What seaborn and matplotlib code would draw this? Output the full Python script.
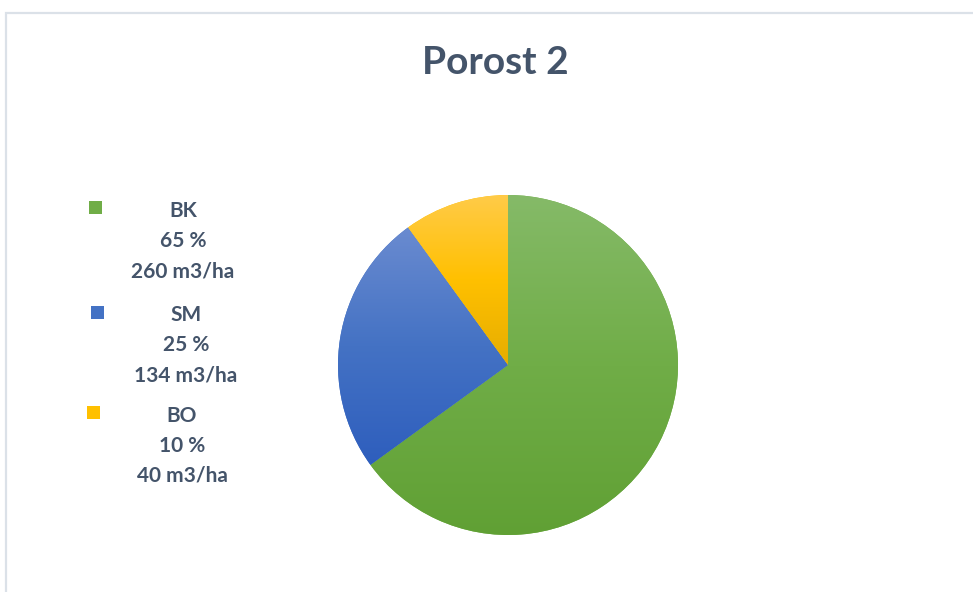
import numpy as np
import matplotlib
matplotlib.use("Agg")
import matplotlib.pyplot as plt
import seaborn as sns
from matplotlib.colors import LinearSegmentedColormap
from matplotlib.patches import Rectangle

# data
species = ["BK", "SM", "BO"]
shares = [65, 25, 10]
volumes = [260, 134, 40]
# light / base / dark for the office-like gradient
colors_light = ["#85ba68", "#6a8bd0", "#ffcb48"]
colors_base = ["#70ad47", "#4472c4", "#ffc000"]
colors_dark = ["#60a034", "#2e5ebd", "#e6ad00"]

sns.set_theme(style="white")
plt.rcParams['font.family'] = ['Lato', 'DejaVu Sans']
textColor = "#44546a"

W, H = 973, 592
fig = plt.figure(figsize=(W / 100, H / 100), dpi=100)

#frame around the chart area (runs off the right and bottom of the picture)
fig.patches.append(Rectangle((6 / W, -0.1), 1.2, 1.1 - 13 / H, transform=fig.transFigure,
                             fill=False, edgecolor="#dbe1e8", linewidth=1.6))

fig.text(495 / W, 1 - 63 / H, "Porost 2", ha="center", va="center",
         fontsize=28, fontweight="bold", color=textColor)

#pie axes, centre (508, 365), radius 170 px
cx, cy, r = 508, 365, 170
ax = fig.add_axes([(cx - r) / W, (H - cy - r) / H, 2 * r / W, 2 * r / H])
wedges, _ = ax.pie(shares, colors=colors_base, startangle=90, counterclock=False,
                   radius=1, wedgeprops=dict(edgecolor="none"))

grad = np.linspace(0, 1, 256).reshape(-1, 1)
for w, c1, c2, c3 in zip(wedges, colors_light, colors_base, colors_dark):
    verts = w.get_path().vertices
    cmap = LinearSegmentedColormap.from_list("g", [c1, c2, c3])
    im = ax.imshow(grad, cmap=cmap, aspect="auto", origin="upper",
                   extent=(verts[:, 0].min(), verts[:, 0].max(),
                           verts[:, 1].min(), verts[:, 1].max()), zorder=2)
    im.set_clip_path(w)
ax.set_xlim(-1, 1)
ax.set_ylim(-1, 1)
ax.set_aspect("equal")
ax.axis("off")

#legend on the left
markerPos = [(95, 207), (97, 312), (93, 412)]
textX = [183, 186, 182]
textY = [211, 315, 416]
lineStep = 30
for i, name in enumerate(species):
    mx, my = markerPos[i]
    fig.patches.append(Rectangle(((mx - 6.5) / W, 1 - (my + 6.5) / H), 13 / W, 13 / H,
                                 transform=fig.transFigure, facecolor=colors_base[i],
                                 edgecolor="none"))
    lines = [name, "%d %%" % shares[i], "%d m3/ha" % volumes[i]]
    for j, line in enumerate(lines):
        fig.text(textX[i] / W, 1 - (textY[i] + j * lineStep) / H, line,
                 ha="center", va="center", fontsize=15, fontweight="bold",
                 color=textColor)

fig.savefig("out.png", dpi=100)
